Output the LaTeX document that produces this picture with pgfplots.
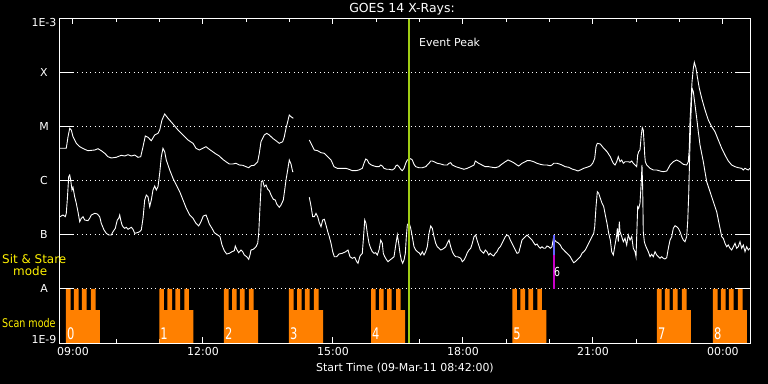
\documentclass[border=0pt]{standalone}
\usepackage{pgfplots}
\pgfplotsset{compat=1.18}
\usepackage{pgfplotstable}
\usepackage{fontspec}
\usepackage{graphicx}
\setmainfont{DejaVu Sans}
\definecolor{scanorange}{RGB}{255,128,0}
\definecolor{peakgreen}{RGB}{160,205,20}
\definecolor{sitmag}{RGB}{200,0,200}
\definecolor{sitblue}{RGB}{100,100,255}

% GOES 14 long channel (1-8 A), log10 flux vs hour of day
\pgfplotstableread{
h f
8.700 -5.394
8.845 -5.394
8.885 -5.180
8.924 -5.024
8.961 -5.056
9.000 -5.180
9.076 -5.302
9.155 -5.365
9.270 -5.413
9.346 -5.439
9.501 -5.426
9.577 -5.402
9.653 -5.439
9.732 -5.487
9.808 -5.550
9.884 -5.574
9.999 -5.561
10.115 -5.524
10.193 -5.537
10.269 -5.513
10.346 -5.537
10.424 -5.519
10.500 -5.561
10.563 -5.550
10.616 -5.365
10.669 -5.167
10.731 -5.191
10.807 -5.254
10.886 -5.148
10.962 -5.117
11.001 -5.056
11.054 -4.870
11.116 -4.759
11.193 -4.839
11.308 -4.944
11.423 -5.056
11.539 -5.148
11.654 -5.241
11.770 -5.302
11.839 -5.394
11.915 -5.426
11.994 -5.394
12.070 -5.365
12.146 -5.413
12.224 -5.457
12.300 -5.500
12.377 -5.537
12.455 -5.598
12.531 -5.643
12.607 -5.685
12.686 -5.685
12.762 -5.672
12.838 -5.704
12.917 -5.709
12.993 -5.735
13.055 -5.754
13.108 -5.717
13.184 -5.709
13.263 -5.643
13.300 -5.487
13.339 -5.272
13.415 -5.148
13.471 -5.117
13.531 -5.148
13.609 -5.209
13.685 -5.254
13.761 -5.302
13.840 -5.272
13.877 -5.180
13.916 -5.024
13.955 -4.902
13.992 -4.778
14.031 -4.809
14.085 -4.839
14.200 nan
14.454 -5.241
14.493 -5.302
14.532 -5.365
14.569 -5.426
14.648 -5.439
14.724 -5.476
14.800 -5.487
14.879 -5.550
14.955 -5.611
15.024 -5.735
15.100 -5.765
15.179 -5.765
15.294 -5.765
15.370 -5.783
15.446 -5.809
15.525 -5.809
15.601 -5.796
15.677 -5.765
15.716 -5.672
15.756 -5.593
15.793 -5.611
15.832 -5.672
15.885 -5.704
15.947 -5.722
16.009 -5.735
16.063 -5.735
16.102 -5.704
16.139 -5.722
16.178 -5.765
16.240 -5.783
16.293 -5.783
16.369 -5.796
16.425 -5.765
16.448 -5.722
16.485 -5.704
16.524 -5.735
16.563 -5.783
16.600 -5.809
16.640 -5.765
16.679 -5.672
16.716 -5.611
16.755 -5.598
16.794 -5.587
16.831 -5.611
16.870 -5.691
16.910 -5.735
16.986 -5.754
17.062 -5.754
17.140 -5.735
17.217 -5.672
17.256 -5.630
17.293 -5.630
17.332 -5.643
17.408 -5.672
17.487 -5.685
17.563 -5.704
17.639 -5.704
17.678 -5.672
17.717 -5.661
17.754 -5.704
17.833 -5.735
17.909 -5.754
18.024 -5.783
18.100 -5.765
18.179 -5.735
18.255 -5.704
18.285 -5.630
18.363 -5.672
18.440 -5.704
18.516 -5.735
18.594 -5.735
18.671 -5.746
18.747 -5.754
18.825 -5.735
18.901 -5.685
18.978 -5.643
19.040 -5.611
19.093 -5.630
19.171 -5.661
19.248 -5.704
19.287 -5.722
19.363 -5.672
19.439 -5.643
19.478 -5.624
19.555 -5.624
19.633 -5.643
19.709 -5.672
19.785 -5.691
19.864 -5.704
19.940 -5.704
20.016 -5.717
20.055 -5.704
20.094 -5.672
20.171 -5.672
20.224 -5.685
20.286 -5.704
20.362 -5.735
20.441 -5.746
20.517 -5.778
20.593 -5.796
20.656 -5.815
20.709 -5.796
20.787 -5.765
20.863 -5.746
20.939 -5.722
20.995 -5.672
21.041 -5.580
21.071 -5.365
21.101 -5.302
21.170 -5.315
21.249 -5.394
21.325 -5.457
21.401 -5.550
21.433 -5.611
21.470 -5.672
21.509 -5.704
21.549 -5.643
21.585 -5.550
21.625 -5.643
21.664 -5.611
21.701 -5.672
21.740 -5.643
21.816 -5.643
21.856 -5.654
21.895 -5.630
21.932 -5.672
21.971 -5.704
22.010 -5.735
22.033 -5.519
22.056 -5.457
22.086 -5.426
22.116 -5.148
22.139 -5.013
22.162 -5.056
22.179 -5.272
22.195 -5.519
22.209 -5.643
22.241 -5.704
22.318 -5.765
22.394 -5.796
22.472 -5.796
22.548 -5.815
22.624 -5.828
22.703 -5.815
22.740 -5.765
22.779 -5.704
22.855 -5.643
22.933 -5.611
23.010 -5.643
23.086 -5.691
23.164 -5.704
23.201 -5.643
23.224 -5.394
23.240 -4.902
23.263 -4.531
23.287 -4.161
23.317 -3.913
23.340 -3.802
23.379 -3.913
23.409 -4.069
23.455 -4.283
23.511 -4.469
23.587 -4.685
23.663 -4.870
23.741 -4.994
23.817 -5.087
23.894 -5.241
23.972 -5.394
24.048 -5.519
24.124 -5.630
24.203 -5.704
24.279 -5.735
24.355 -5.754
24.433 -5.765
24.470 -5.796
24.510 -5.765
24.549 -5.783
24.586 -5.796
24.625 -5.765
}\longchan

% GOES 14 short channel (0.5-4 A)
\pgfplotstableread{
h f
8.700 -6.661
8.769 -6.630
8.822 -6.661
8.845 -6.598
8.868 -6.352
8.901 -5.920
8.924 -5.889
8.947 -5.981
8.977 -6.167
9.000 -6.117
9.039 -6.291
9.076 -6.413
9.115 -6.569
9.155 -6.754
9.192 -6.691
9.231 -6.661
9.270 -6.722
9.346 -6.735
9.385 -6.691
9.422 -6.630
9.501 -6.598
9.561 -6.611
9.616 -6.661
9.653 -6.785
9.716 -6.907
9.769 -6.969
9.824 -7.000
9.884 -7.000
9.923 -6.939
9.976 -6.876
10.022 -6.722
10.055 -6.691
10.078 -6.630
10.101 -6.722
10.131 -6.815
10.154 -6.846
10.193 -6.876
10.230 -6.857
10.269 -6.894
10.309 -6.876
10.346 -6.857
10.385 -6.894
10.424 -6.969
10.484 -6.957
10.539 -6.939
10.576 -6.907
10.616 -6.691
10.655 -6.352
10.692 -6.259
10.731 -6.291
10.770 -6.476
10.807 -6.352
10.846 -6.167
10.886 -6.093
10.923 -6.167
10.962 -6.105
11.001 -5.857
11.038 -5.550
11.077 -5.394
11.116 -5.457
11.153 -5.611
11.232 -5.796
11.308 -5.950
11.384 -6.074
11.463 -6.198
11.539 -6.352
11.615 -6.506
11.693 -6.630
11.770 -6.691
11.839 -6.785
11.901 -6.833
11.954 -6.754
12.007 -6.648
12.070 -6.630
12.109 -6.709
12.146 -6.796
12.208 -6.876
12.261 -6.957
12.340 -7.000
12.393 -7.031
12.439 -7.185
12.492 -7.291
12.547 -7.352
12.607 -7.339
12.670 -7.309
12.723 -7.291
12.746 -7.204
12.778 -7.265
12.824 -7.328
12.877 -7.278
12.917 -7.309
12.954 -7.370
13.009 -7.402
13.055 -7.450
13.085 -7.370
13.108 -7.278
13.161 -7.265
13.224 -7.217
13.263 -7.154
13.286 -6.969
13.316 -6.476
13.346 -6.013
13.378 -5.994
13.415 -6.105
13.454 -6.074
13.494 -6.154
13.531 -6.180
13.570 -6.259
13.623 -6.339
13.669 -6.352
13.701 -6.426
13.761 -6.487
13.801 -6.444
13.854 -6.352
13.886 -6.167
13.916 -5.981
13.955 -5.796
13.992 -5.611
14.031 -5.685
14.070 -5.828
14.085 -5.828
14.200 nan
14.454 -6.302
14.493 -6.463
14.532 -6.661
14.569 -6.661
14.608 -6.598
14.648 -6.661
14.685 -6.772
14.724 -6.846
14.763 -6.722
14.800 -6.709
14.839 -6.815
14.879 -6.939
14.915 -7.031
14.955 -7.154
14.994 -7.309
15.031 -7.402
15.086 -7.402
15.139 -7.352
15.216 -7.339
15.294 -7.309
15.347 -7.278
15.393 -7.402
15.446 -7.431
15.502 -7.413
15.548 -7.494
15.578 -7.524
15.624 -7.389
15.677 -7.339
15.700 -7.093
15.733 -6.722
15.762 -6.785
15.793 -6.969
15.832 -7.154
15.871 -7.246
15.908 -7.309
15.947 -7.339
15.986 -7.328
16.023 -7.370
16.063 -7.278
16.102 -7.093
16.139 -7.154
16.162 -7.339
16.194 -7.402
16.240 -7.463
16.270 -7.494
16.316 -7.463
16.369 -7.431
16.409 -7.402
16.432 -7.278
16.455 -7.154
16.485 -7.000
16.517 -7.154
16.547 -7.339
16.577 -7.463
16.609 -7.524
16.640 -7.463
16.670 -7.339
16.693 -7.031
16.716 -6.815
16.755 -6.772
16.794 -6.876
16.831 -7.031
16.870 -7.217
16.910 -7.278
16.947 -7.309
16.986 -7.328
17.025 -7.370
17.062 -7.309
17.101 -7.370
17.140 -7.309
17.177 -7.217
17.217 -6.969
17.256 -6.833
17.293 -6.876
17.332 -7.031
17.371 -7.154
17.408 -7.217
17.447 -7.246
17.487 -7.278
17.523 -7.265
17.563 -7.246
17.602 -7.217
17.639 -7.154
17.678 -7.093
17.717 -7.217
17.754 -7.309
17.794 -7.370
17.833 -7.402
17.870 -7.402
17.909 -7.413
17.948 -7.431
17.985 -7.494
18.024 -7.463
18.064 -7.402
18.100 -7.328
18.140 -7.278
18.179 -7.246
18.216 -7.154
18.255 -7.031
18.294 -7.000
18.324 -7.093
18.363 -7.185
18.400 -7.278
18.440 -7.309
18.479 -7.339
18.516 -7.278
18.555 -7.309
18.594 -7.370
18.631 -7.339
18.671 -7.370
18.710 -7.389
18.747 -7.339
18.786 -7.309
18.825 -7.246
18.862 -7.217
18.901 -7.154
18.940 -7.093
18.978 -7.031
19.017 -7.000
19.056 -7.019
19.093 -7.093
19.132 -7.154
19.171 -7.217
19.208 -7.278
19.248 -7.339
19.287 -7.328
19.324 -7.217
19.363 -7.093
19.402 -7.061
19.439 -7.031
19.478 -7.000
19.517 -7.031
19.555 -7.061
19.594 -7.093
19.633 -7.143
19.670 -7.185
19.709 -7.167
19.748 -7.217
19.785 -7.246
19.824 -7.217
19.864 -7.246
19.901 -7.246
19.940 -7.204
19.979 -7.217
20.016 -7.246
20.055 -7.217
20.094 -7.031
20.117 -7.093
20.147 -7.124
20.194 -7.143
20.247 -7.185
20.286 -7.246
20.325 -7.278
20.362 -7.309
20.401 -7.339
20.441 -7.370
20.477 -7.402
20.517 -7.463
20.556 -7.513
20.593 -7.494
20.632 -7.463
20.671 -7.431
20.709 -7.402
20.748 -7.339
20.787 -7.309
20.824 -7.278
20.863 -7.217
20.902 -7.154
20.939 -7.093
20.978 -7.031
21.018 -6.969
21.041 -6.846
21.071 -6.476
21.101 -6.198
21.133 -6.228
21.170 -6.320
21.210 -6.413
21.249 -6.476
21.286 -6.630
21.325 -6.785
21.364 -6.969
21.401 -7.093
21.433 -7.309
21.470 -7.370
21.509 -7.185
21.549 -7.000
21.563 -6.876
21.585 -7.124
21.609 -6.754
21.625 -6.939
21.664 -7.031
21.701 -7.124
21.740 -7.061
21.779 -7.185
21.816 -7.000
21.856 -7.093
21.895 -7.031
21.932 -7.246
21.971 -7.309
21.994 -7.402
22.010 -7.031
22.033 -6.476
22.056 -6.506
22.086 -6.413
22.116 -6.013
22.132 -5.704
22.148 -6.135
22.162 -6.939
22.186 -7.124
22.209 -7.185
22.241 -7.246
22.278 -7.309
22.318 -7.402
22.356 -7.357
22.394 -7.402
22.433 -7.309
22.472 -7.370
22.509 -7.402
22.548 -7.431
22.587 -7.402
22.624 -7.431
22.663 -7.444
22.703 -7.420
22.740 -7.246
22.779 -7.093
22.818 -7.031
22.855 -6.876
22.894 -6.828
22.933 -6.846
22.970 -6.876
23.010 -6.939
23.049 -7.031
23.086 -7.093
23.125 -7.124
23.164 -7.031
23.187 -6.754
23.210 -6.259
23.233 -5.519
23.256 -4.902
23.287 -4.283
23.317 -4.346
23.356 -4.593
23.395 -4.839
23.432 -5.087
23.471 -5.333
23.547 -5.643
23.625 -6.013
23.702 -6.198
23.778 -6.383
23.856 -6.569
23.933 -6.876
23.972 -7.031
24.009 -7.061
24.048 -7.154
24.087 -7.217
24.124 -7.185
24.164 -7.246
24.203 -7.278
24.240 -7.217
24.279 -7.154
24.318 -7.246
24.355 -7.217
24.394 -7.124
24.433 -7.246
24.470 -7.185
24.510 -7.309
24.549 -7.217
24.586 -7.278
24.625 -7.246
}\shortchan

\begin{document}
\begin{tikzpicture}
\useasboundingbox (0,0) rectangle (768bp,384bp);
\fill[black] (0,0) rectangle (768bp,384bp);
\begin{axis}[
  at={(60bp,41bp)}, anchor=south west,
  width=690bp, height=324bp, scale only axis,
  xmin=8.7, xmax=24.625, ymin=-9, ymax=-3,
  axis line style={white, line width=1bp},
  tick style={white, line width=1bp},
  tick align=inside,
  major tick length=5.5bp, minor tick length=3.5bp,
  xtick={9,12,15,18,21,24},
  xticklabels={09:00,12:00,15:00,18:00,21:00,00:00},
  minor xtick={10,11,13,14,16,17,19,20,22,23},
  ytick={-9,-8,-7,-6,-5,-4,-3},
  yticklabels={\raisebox{3.5bp}[\height][\depth]{1E-9},A,B,C,M,X,\raisebox{-4bp}[\height][\depth]{1E-3}},
  ytick style={draw=none},
  ymajorgrids,
  grid style={white, line width=1bp, dash pattern=on 1bp off 3.33bp},
  tick label style={white, font=\fontsize{11}{13}\selectfont},
  yticklabel style={anchor=center, xshift=-16bp},
  xticklabel style={yshift=-1bp},
]
\addplot[const plot, fill=scanorange, draw=none] coordinates {(8.838,-9) (8.838,-8) (8.946,-8.39) (9.023,-8) (9.131,-8.39) (9.207,-8) (9.316,-8.39) (9.415,-8) (9.523,-8.39) (9.623,-8.39) (9.623,-9)};
\addplot[const plot, fill=scanorange, draw=none] coordinates {(10.992,-9) (10.992,-8) (11.100,-8.39) (11.177,-8) (11.285,-8.39) (11.361,-8) (11.470,-8.39) (11.569,-8) (11.677,-8.39) (11.777,-8.39) (11.777,-9)};
\addplot[const plot, fill=scanorange, draw=none] coordinates {(12.485,-9) (12.485,-8) (12.593,-8.39) (12.670,-8) (12.778,-8.39) (12.854,-8) (12.963,-8.39) (13.062,-8) (13.170,-8.39) (13.270,-8.39) (13.270,-9)};
\addplot[const plot, fill=scanorange, draw=none] coordinates {(13.985,-9) (13.985,-8) (14.093,-8.39) (14.170,-8) (14.278,-8.39) (14.354,-8) (14.463,-8.39) (14.562,-8) (14.670,-8.39) (14.770,-8.39) (14.770,-9)};
\addplot[const plot, fill=scanorange, draw=none] coordinates {(15.878,-9) (15.878,-8) (15.986,-8.39) (16.063,-8) (16.171,-8.39) (16.247,-8) (16.356,-8.39) (16.455,-8) (16.563,-8.39) (16.663,-8.39) (16.663,-9)};
\addplot[const plot, fill=scanorange, draw=none] coordinates {(19.139,-9) (19.139,-8) (19.247,-8.39) (19.324,-8) (19.432,-8.39) (19.508,-8) (19.617,-8.39) (19.716,-8) (19.824,-8.39) (19.924,-8.39) (19.924,-9)};
\addplot[const plot, fill=scanorange, draw=none] coordinates {(22.478,-9) (22.478,-8) (22.586,-8.39) (22.663,-8) (22.771,-8.39) (22.847,-8) (22.956,-8.39) (23.055,-8) (23.163,-8.39) (23.263,-8.39) (23.263,-9)};
\addplot[const plot, fill=scanorange, draw=none] coordinates {(23.770,-9) (23.770,-8) (23.878,-8.39) (23.955,-8) (24.063,-8.39) (24.139,-8) (24.248,-8.39) (24.347,-8) (24.455,-8.39) (24.555,-8.39) (24.555,-9)};
\addplot[white, line width=0.9bp, unbounded coords=jump] table[x=h, y=f] {\longchan};
\addplot[white, line width=0.9bp, unbounded coords=jump] table[x=h, y=f] {\shortchan};
\addplot[peakgreen, line width=2bp] coordinates {(16.755,-9) (16.755,-3)};
\addplot[sitblue, line width=2bp] coordinates {(20.094,-7.0) (20.094,-7.37)};
\addplot[sitmag, line width=2bp] coordinates {(20.094,-7.37) (20.094,-8)};
\node[white, anchor=west, inner sep=0, font=\fontsize{11}{13}\selectfont] at (axis cs:16.985,-3.435) {Event Peak};
\foreach \s/\n in {8.838/0,10.992/1,12.485/2,13.985/3,15.878/4,19.139/5,22.478/7,23.770/8}{
  \edef\temp{\noexpand\node[white, anchor=south west, inner sep=0, font=\noexpand\fontsize{16}{18}\noexpand\selectfont] at (axis cs:\s+0.02,-8.944) {\noexpand\scalebox{0.72}[1]{\n}};}
  \temp
}
\node[white, anchor=south west, inner sep=0, font=\fontsize{12.5}{14}\selectfont] at (axis cs:20.101,-7.778) {\scalebox{0.75}[1]{6}};
\end{axis}
\begin{axis}[
  at={(60bp,41bp)}, anchor=south west,
  width=690bp, height=324bp, scale only axis,
  xmin=8.7, xmax=24.625, ymin=-9, ymax=-3,
  axis line style={draw=none},
  xtick=\empty,
  ytick={-8,-7,-6,-5,-4},
  yticklabel=\empty,
  major tick length=14bp,
  tick align=inside,
  tick style={white, line width=1bp},
]
\end{axis}
\node[white, font=\fontsize{12.5}{14}\selectfont] at (402bp,374.5bp) {GOES 14 X-Rays:};
\node[white, font=\fontsize{11}{13}\selectfont] at (405bp,16bp) {Start Time (09-Mar-11 08:42:00)};
\node[yellow, anchor=west, inner sep=0, font=\fontsize{12}{14}\selectfont] at (2bp,125bp) {Sit \& Stare};
\node[yellow, anchor=west, inner sep=0, font=\fontsize{12}{14}\selectfont] at (13bp,112.5bp) {mode};
\node[yellow, anchor=west, inner sep=0, font=\fontsize{12}{14}\selectfont] at (2bp,61bp) {\scalebox{0.8}[1]{Scan mode}};
\end{tikzpicture}
\end{document}
